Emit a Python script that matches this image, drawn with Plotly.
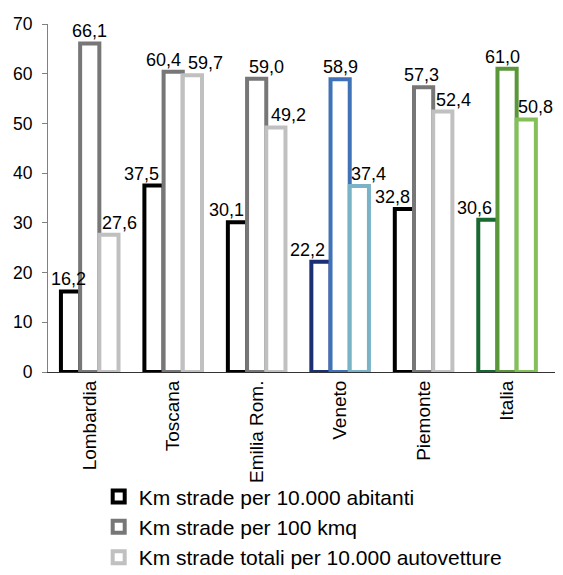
import plotly.graph_objects as go

# Road network density indicators by region
regions = ["Lombardia", "Toscana", "Emilia Rom.", "Veneto", "Piemonte", "Italia"]
series_names = [
    "Km strade per 10.000 abitanti",
    "Km strade per 100 kmq",
    "Km strade totali per 10.000 autovetture",
]
km_per_abitanti = [16.2, 37.5, 30.1, 22.2, 32.8, 30.6]
km_per_kmq = [66.1, 60.4, 59.0, 58.9, 57.3, 61.0]
km_per_autovetture = [27.6, 59.7, 49.2, 37.4, 52.4, 50.8]
y_ticks = [0, 10, 20, 30, 40, 50, 60, 70]

# Outline colours: grey scale by default, blue for Veneto, green for Italia
outline_colors = [
    ["#000000", "#000000", "#000000", "#1B2F73", "#000000", "#17692F"],
    ["#777777", "#777777", "#777777", "#3F72B6", "#777777", "#5B973A"],
    ["#C0C0C0", "#C0C0C0", "#C0C0C0", "#7AB3C7", "#C0C0C0", "#84C05A"],
]
# Horizontal nudges (px) for value labels so neighbours don't collide
label_nudge = [
    [-2, -12, -11, -13, -12, -13],
    [0, -10, 10, 0, -2, -5],
    [10, 13, 12, 9, 10, 9],
]

FONT = "Liberation Sans, Arial, sans-serif"
W, H = 563, 575
M_L, M_R, M_T, M_B = 48, 8, 24, 203
BARGAP = 0.31

values = [km_per_abitanti, km_per_kmq, km_per_autovetture]

fig = go.Figure()
for i, (name, vals) in enumerate(zip(series_names, values)):
    fig.add_trace(go.Bar(
        name=name,
        x=regions,
        y=vals,
        marker=dict(color="white", line=dict(color=outline_colors[i], width=4)),
        legendgroup=f"g{i}",
        hoverinfo="x+y",
    ))

# Value labels above each bar, with comma decimal separator
cat_px = (W - M_L - M_R) / len(regions)
bar_px = cat_px * (1 - BARGAP) / len(values)
for i, vals in enumerate(values):
    offset = (i - 1) * bar_px
    for j, v in enumerate(vals):
        fig.add_annotation(
            x=regions[j], y=v, xref="x", yref="y",
            text=f"{v:.1f}".replace(".", ","),
            showarrow=False, yanchor="bottom", xanchor="center",
            xshift=offset + label_nudge[i][j], yshift=0,
            font=dict(family=FONT, size=18, color="#000000"),
        )

fig.update_layout(
    width=W, height=H,
    margin=dict(l=M_L, r=M_R, t=M_T, b=M_B, pad=0, autoexpand=False),
    paper_bgcolor="white", plot_bgcolor="white",
    barmode="group", bargap=BARGAP, bargroupgap=0,
    font=dict(family=FONT, size=17, color="#000000"),
    showlegend=True,
    legend=dict(
        orientation="v", x=0.10, xanchor="left", y=-0.30, yanchor="top",
        font=dict(family=FONT, size=21, color="#000000"),
        tracegroupgap=0, bgcolor="rgba(0,0,0,0)",
    ),
    xaxis=dict(
        type="category", tickangle=-90, showline=True, linecolor="#333333",
        linewidth=1, ticks="", showgrid=False, zeroline=False, automargin=False,
        tickfont=dict(family=FONT, size=19), fixedrange=True,
    ),
    yaxis=dict(
        range=[0, 70], tickvals=y_ticks, showline=True, linecolor="#808080",
        linewidth=1, ticks="outside", ticklen=5, tickcolor="#808080",
        showgrid=False, zeroline=False, automargin=False,
        tickfont=dict(family=FONT, size=17.5),
        ticklabelstandoff=6, fixedrange=True,
    ),
)

fig.write_html("out.html")
